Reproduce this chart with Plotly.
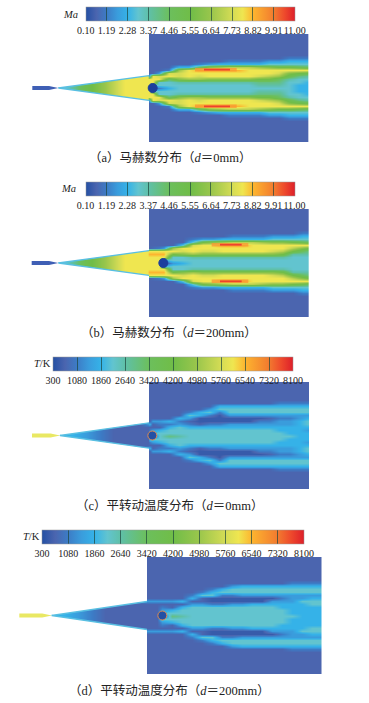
import plotly.graph_objects as go

W, H = 369, 703
MA_TICKS = [0.10, 1.19, 2.28, 3.37, 4.46, 5.55, 6.64, 7.73, 8.82, 9.91, 11.00]
MA_LABELS = ["0.10", "1.19", "2.28", "3.37", "4.46", "5.55", "6.64", "7.73", "8.82", "9.91", "11.00"]
T_TICKS = [300, 1080, 1860, 2640, 3420, 4200, 4980, 5760, 6540, 7320, 8100]
T_LABELS = [str(v) for v in T_TICKS]

SCALE = [[0, "#2450a4"], [.05, "#4b65af"], [.1, "#3c7cc6"], [.15, "#3a9cdc"], [.2, "#35b2e8"], [.25, "#62c4cf"],
         [.3, "#5fc0a8"], [.4, "#6cbf5c"], [.5, "#70bd48"], [.6, "#9ac64c"], [.7, "#d4dc55"], [.75, "#efe650"],
         [.8, "#fdb52f"], [.9, "#f27a2f"], [.95, "#ee4a2c"], [1, "#dd1f2a"]]

# Level strings: one base-36 digit per row, from the axis (k=0) outward, one string per flow station.
# Digit n is n/20 of the colour bar's range; D is the half step between 0 and 1.
WEDGE_X = [175, 215, 255, 295, 335, 375, 415, 446]
A_X = WEDGE_X + [447, 457, 477, 507, 537, 567, 597, 627, 657, 687, 717, 747, 777, 807, 837, 867, 897, 926, 950]
A_F = ["444", "6666", "99999", "bbbbbb", "dddddd", "ffffff", "ffffff", "fffff",
       "0fff31", "05fff1", "255fe3", "4558fe2", "556beec41", "556cfff4", "556cefg821", "556bffgb31", "556bffgc41",
       "556bffgd42", "556bffgd42", "556bfffd42", "567aeffc421", "567adffb531", "5678cefa531",
       "55569bfa542", "44557af9542", "444569f8542", "444569f8542"]
B_X = WEDGE_X + [447, 477, 490, 517, 547, 577, 607, 637, 667, 697, 727, 757, 787, 817, 847, 877, 907, 926, 950]
B_F = ["444", "6666", "99999", "bbbbbb", "dddddd", "ffffff", "ffffff", "fffff",
       "fffgf", "fffgf2", "04fgf3", "355afc1", "455bef5", "556cffe52", "556beffa31", "556beffb31",
       "556bffgc41", "556bffgd42", "556bffgd42", "556bfffd42", "556bfffc42", "556beffb531",
       "556adffb531", "5556adfa531", "55568bf9542", "55567af8542", "55567af8542"]
C_X = [180, 220, 260, 300, 340, 380, 420, 446, 447, 457, 477, 507, 537, 567, 597, 627, 657, 687, 717, 747, 777, 807, 837, 867, 897, 926, 950]
C_F = ["444", "4444", "33333", "222222", "111111", "111111", "111111", "111131",
       "05214", "0531131", "554123", "7554241", "655532411", "5554213521", "55541DD4411", "55542DD2531", "55542DDD2541",
       "55543DD35541", "55543DD35541", "55543DD35541", "555432D35541", "555432135541", "554433235542", "544433235542",
       "444444335542", "443455435542", "443455435542"]
D_X = [155, 195, 235, 275, 315, 355, 400, 440, 441, 471, 487, 517, 547, 577, 607, 637, 667, 697, 727, 757, 787, 817, 847, 877, 907, 937, 965, 990]
D_F = ["444", "4444", "33333", "222222", "111111", "111111", "1111111", "1111131",
       "11111311", "11111311", "0532131", "7541131", "6554141", "55553142", "555531152", "55552DD542", "55552DD254",
       "55553DD2553", "55553DD35541", "55554DD35541", "55554DD35541", "555543D35541", "555443235541", "544443335542",
       "444445335542", "444455435542", "444455435542", "444455435542"]

# Thin hot streaks behind the shock: stations and height, orange halo then red centre
A_HALO = ([585, 710], [209, 209])
A_CORE = ([612, 690], [209, 209])
B_HALO = ([635, 745], [209, 209])
B_CORE = ([660, 725], [209, 209])

PANELS = [
    dict(xs=A_X, cols=A_F, lim=(0.10, 11.00), ticks=MA_TICKS, labels=MA_LABELS, left=149, right=308.5, top=34, bottom=142,
         tip=175, edge=447, half=37, sting=(97, "#3f5fb5"), body=(458, 9, "#1c3f9c", "#1c3f9c"), streak=(A_HALO, A_CORE), cy=264,
         bar=(85.7, 7.5, 209, 14), unit="<i>Ma</i>", unit_x=70, caption="（a）马赫数分布（<i>d</i>＝0mm）", cap=(170, 158)),
    dict(xs=B_X, cols=B_F, lim=(0.10, 11.00), ticks=MA_TICKS, labels=MA_LABELS, left=149, right=309, top=209, bottom=317,
         tip=175, edge=447, half=37, sting=(95, "#3f5fb5"), body=(490, 9, "#1c3f9c", "#1c3f9c"), streak=(B_HALO, B_CORE), cy=264,
         bar=(85.5, 182, 209, 14), unit="<i>Ma</i>", unit_x=68, caption="（b）马赫数分布（<i>d</i>＝200mm）", cap=(169, 333)),
    dict(xs=C_X, cols=C_F, lim=(300, 8100), ticks=T_TICKS, labels=T_LABELS, left=149, right=309, top=382, bottom=489,
         tip=180, edge=447, half=38, sting=(96, "#e9e863"), body=(457, 9, "#2450a4", "#e08a50"), streak=None, cy=258,
         bar=(53, 356.5, 240, 14), unit="<i>T</i>/K", unit_x=42, caption="（c）平转动温度分布（<i>d</i>＝0mm）", cap=(170, 505)),
    dict(xs=D_X, cols=D_F, lim=(300, 8100), ticks=T_TICKS, labels=T_LABELS, left=147, right=321.5, top=557, bottom=674,
         tip=155, edge=441, half=42, sting=(58, "#e9e863"), body=(487, 9, "#2450a4", "#e08a50"), streak=None, cy=270,
         bar=(42, 529.5, 262, 14), unit="<i>T</i>/K", unit_x=31, caption="（d）平转动温度分布（<i>d</i>＝200mm）", cap=(169, 690)),
]

N_ROWS = 22
fig = go.Figure()
layout = {}
annotations = []
FONT = "Liberation Serif, Noto Sans CJK SC, serif"


def level(ch):
    return 0.5 if ch == "D" else int(ch, 36)


for i, p in enumerate(PANELS):
    ax = "" if i == 0 else str(i + 1)
    xa, ya = "x" + ax, "y" + ax
    half_px = (p["bottom"] - p["top"]) * 3 / 2
    lo, hi = p["lim"]
    ks = list(range(-N_ROWS, N_ROWS + 1))
    rows = []
    for k in ks:
        row = []
        for c in p["cols"]:
            ch = c[abs(k)] if abs(k) < len(c) else "1"
            row.append(lo + level(ch) / 20 * (hi - lo))
        rows.append(row)
    x_bar, y_bar, w_bar, h_bar = p["bar"]
    fig.add_trace(go.Heatmap(
        x=p["xs"], y=[9 * k for k in ks], z=rows, xaxis=xa, yaxis=ya, zmin=lo, zmax=hi, zsmooth="best",
        colorscale=SCALE, hoverinfo="skip",
        colorbar=dict(orientation="h", x=x_bar / W, xanchor="left", y=1 - y_bar / H, yanchor="top",
                      len=w_bar, lenmode="pixels", thickness=h_bar, thicknessmode="pixels", xpad=0, ypad=0,
                      tickmode="array", tickvals=p["ticks"], ticktext=p["labels"], ticks="inside", ticklen=h_bar,
                      tickangle=0, tickwidth=0.6, tickcolor="rgba(30,70,60,0.7)", outlinewidth=0.5, outlinecolor="#999",
                      tickfont=dict(family=FONT, size=10, color="#222"))))
    tip, edge, half = p["tip"], p["edge"], p["half"]
    for s in (1, -1):
        # white outside the wedge, left of the field
        fig.add_trace(go.Scatter(x=[0, tip, edge, edge, 0, 0], y=[0, 0, s * half, s * 400, s * 400, 0], xaxis=xa, yaxis=ya,
                                 mode="lines", fill="toself", fillcolor="white", line=dict(width=0), hoverinfo="skip", showlegend=False))
        fig.add_trace(go.Scatter(x=[tip, edge], y=[0, s * half], xaxis=xa, yaxis=ya, mode="lines",
                                 line=dict(color="#58bfe2", width=1.3), hoverinfo="skip", showlegend=False))
        if p["streak"]:
            for (sx_, sy_), col, wd in zip(p["streak"], ("rgba(250,150,50,0.75)", "rgba(236,56,44,0.9)"), (3.5, 1.8)):
                fig.add_trace(go.Scatter(x=sx_, y=[s * (p["cy"] - v) for v in sy_], xaxis=xa, yaxis=ya, mode="lines",
                                         line=dict(color=col, width=wd), hoverinfo="skip", showlegend=False))
    sx, sc = p["sting"]
    fig.add_trace(go.Scatter(x=[sx, tip - 28, tip, tip - 28, sx, sx], y=[6, 6, 0, -6, -6, 6], xaxis=xa, yaxis=ya, mode="lines",
                             fill="toself", fillcolor=sc, line=dict(width=0), hoverinfo="skip", showlegend=False))
    bx, br, bc, bl = p["body"]
    fig.add_trace(go.Scatter(x=[bx], y=[0], xaxis=xa, yaxis=ya, mode="markers",
                             marker=dict(size=br, color=bc, symbol="circle", line=dict(color=bl, width=1)),
                             hoverinfo="skip", showlegend=False))
    layout["xaxis" + ax] = dict(domain=[0, p["right"] / W], range=[0, p["right"] * 3], visible=False, fixedrange=True, anchor=ya)
    layout["yaxis" + ax] = dict(domain=[1 - p["bottom"] / H, 1 - p["top"] / H], range=[-half_px, half_px], visible=False, fixedrange=True, anchor=xa)
    annotations.append(dict(xref="paper", yref="paper", x=p["unit_x"] / W, y=1 - (y_bar + h_bar / 2) / H, text=p["unit"], showarrow=False,
                            xanchor="center", yanchor="middle", font=dict(family=FONT, size=10.5, color="#222")))
    annotations.append(dict(xref="paper", yref="paper", x=p["cap"][0] / W, y=1 - p["cap"][1] / H, text=p["caption"], showarrow=False,
                            xanchor="center", yanchor="middle", font=dict(family=FONT, size=12.5, color="#222")))

fig.update_layout(width=W, height=H, margin=dict(l=0, r=0, t=0, b=0), paper_bgcolor="white", plot_bgcolor="white",
                  showlegend=False, annotations=annotations, **layout)
fig.write_html("out.html", config={"displayModeBar": False}, post_script="document.body.style.margin='0';")
